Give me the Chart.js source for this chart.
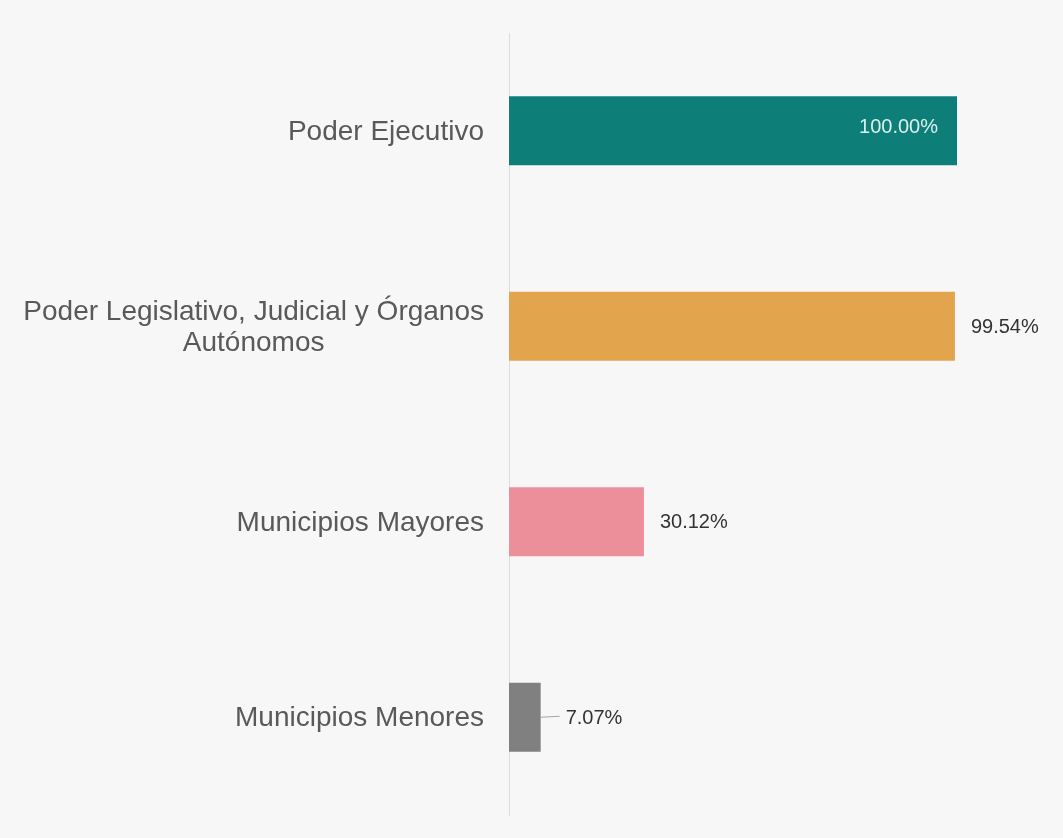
<!DOCTYPE html>
<html>
<head>
<meta charset="utf-8">
<script src="https://cdn.jsdelivr.net/npm/chart.js@4"></script>
<style>
  html, body { margin: 0; padding: 0; background: #f7f7f7; }
  #wrap { width: 1063px; height: 838px; }
</style>
</head>
<body>
<div id="wrap"><canvas id="chart" width="1063" height="838"></canvas></div>
<script>
const categories = [
  'Poder Ejecutivo',
  ['Poder Legislativo, Judicial y Órganos', 'Autónomos'],
  'Municipios Mayores',
  'Municipios Menores'
];
const values = [100.00, 99.54, 30.12, 7.07];
const barColors = ['#0e7f78', '#e3a44e', '#ec8f9b', '#808080'];

const labelFont = '28px "Liberation Sans", Arial, sans-serif';

// category labels: block right-aligned to the axis, lines centred inside the block
const catLabels = {
  id: 'catLabels',
  afterDraw(chart) {
    const ctx = chart.ctx;
    const y = chart.scales.y;
    const right = y.right - 25;
    ctx.save();
    ctx.font = labelFont;
    ctx.fillStyle = '#595959';
    ctx.textAlign = 'center';
    ctx.textBaseline = 'middle';
    categories.forEach((lab, i) => {
      const lines = Array.isArray(lab) ? lab : [lab];
      const w = Math.max(...lines.map(l => ctx.measureText(l).width));
      const cy = y.getPixelForValue(i) + 1.5;
      const lh = 31;
      lines.forEach((l, j) => {
        ctx.fillText(l, right - w / 2, cy + (j - (lines.length - 1) / 2) * lh);
      });
    });
    ctx.restore();
  }
};

// value labels: inside the first bar, outside the others, leader line on the small one
const valueLabels = {
  id: 'valueLabels',
  afterDatasetsDraw(chart) {
    const ctx = chart.ctx;
    const meta = chart.getDatasetMeta(0);
    ctx.save();
    ctx.font = '20px "Liberation Sans", Arial, sans-serif';
    ctx.textBaseline = 'middle';
    meta.data.forEach((bar, i) => {
      const txt = values[i].toFixed(2) + '%';
      if (i === 0) {
        ctx.fillStyle = '#dcefed';
        ctx.textAlign = 'right';
        ctx.fillText(txt, bar.x - 19, bar.y - 3);
      } else if (values[i] < 10) {
        ctx.strokeStyle = '#a6a6a6';
        ctx.lineWidth = 1;
        ctx.beginPath();
        ctx.moveTo(bar.x, bar.y);
        ctx.lineTo(bar.x + 19, bar.y - 1);
        ctx.stroke();
        ctx.fillStyle = '#333';
        ctx.textAlign = 'left';
        ctx.fillText(txt, bar.x + 25, bar.y + 1);
      } else {
        ctx.fillStyle = '#333';
        ctx.textAlign = 'left';
        ctx.fillText(txt, bar.x + 16, bar.y + 1);
      }
    });
    ctx.restore();
  }
};

new Chart(document.getElementById('chart'), {
  type: 'bar',
  data: {
    labels: categories,
    datasets: [{
      data: values,
      backgroundColor: barColors,
      categoryPercentage: 1,
      barPercentage: 0.353
    }]
  },
  options: {
    indexAxis: 'y',
    responsive: false,
    animation: false,
    layout: { padding: { top: 33, bottom: 23, right: 106, left: 0 } },
    plugins: { legend: { display: false }, tooltip: { enabled: false } },
    scales: {
      x: { display: false, min: 0, max: 100 },
      y: {
        grid: { display: false, drawTicks: false },
        border: { color: '#dcdcdc', width: 1 },
        afterFit(scale) {
          scale.width = 509;
          scale.paddingTop = 0;
          scale.paddingBottom = 0;
        },
        ticks: {
          padding: 25,
          color: 'rgba(0,0,0,0)',
          font: { family: '"Liberation Sans", Arial, sans-serif', size: 28, lineHeight: 1.12 }
        }
      }
    }
  },
  plugins: [valueLabels, catLabels]
});
</script>
</body>
</html>
